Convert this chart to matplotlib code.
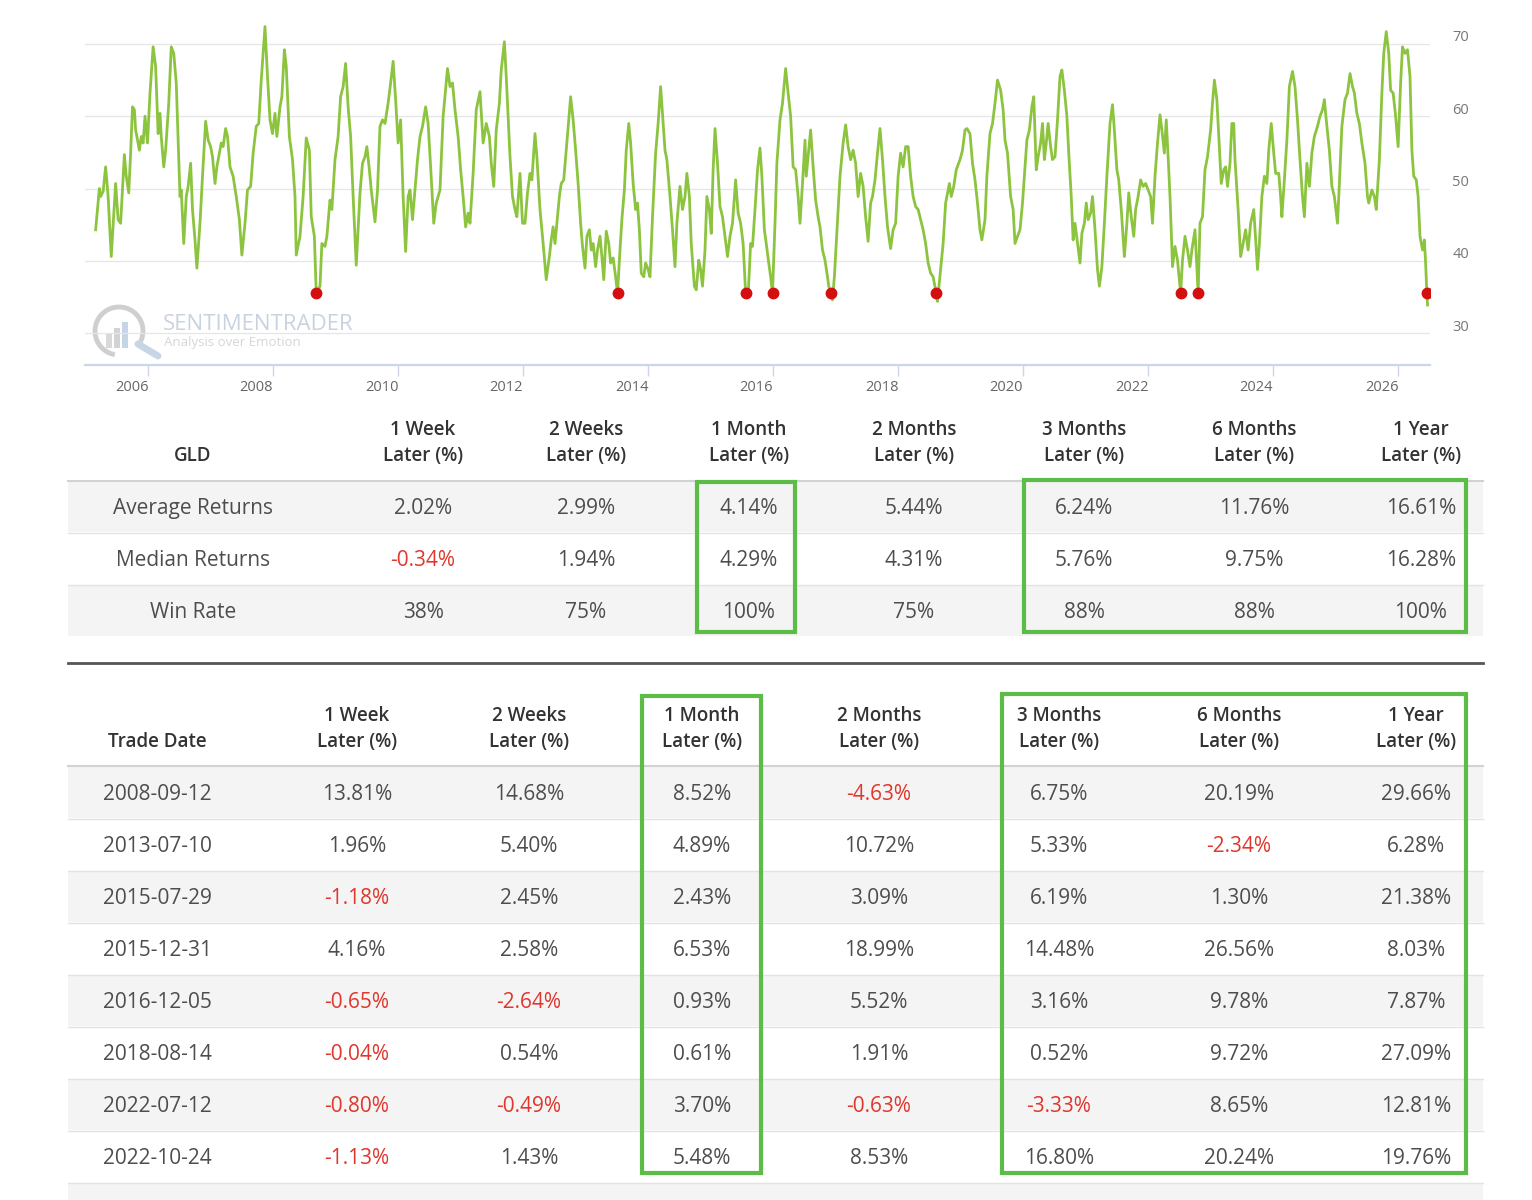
import matplotlib
matplotlib.use("Agg")
import matplotlib.pyplot as plt
from matplotlib.patches import Rectangle, Arc
from matplotlib.transforms import ScaledTranslation

plt.rcParams['font.family'] = ['Open Sans', 'DejaVu Sans']

# ---- chart data (decimal year, indicator value) ----
dates = [
    2005.17, 2005.23, 2005.25, 2005.29, 2005.33, 2005.37, 2005.42, 2005.49, 2005.53, 2005.57,
    2005.63, 2005.66, 2005.70, 2005.73, 2005.76, 2005.79, 2005.81, 2005.83, 2005.87, 2005.90,
    2005.93, 2005.96, 2006.00, 2006.04, 2006.09, 2006.13, 2006.17, 2006.20, 2006.22, 2006.26,
    2006.29, 2006.34, 2006.38, 2006.42, 2006.46, 2006.52, 2006.54, 2006.58, 2006.62, 2006.65,
    2006.69, 2006.72, 2006.76, 2006.79, 2006.84, 2006.88, 2006.93, 2006.97, 2007.01, 2007.04,
    2007.08, 2007.11, 2007.16, 2007.18, 2007.21, 2007.25, 2007.28, 2007.32, 2007.37, 2007.42,
    2007.47, 2007.51, 2007.56, 2007.60, 2007.65, 2007.69, 2007.74, 2007.78, 2007.82, 2007.88,
    2007.92, 2007.96, 2008.00, 2008.04, 2008.07, 2008.12, 2008.15, 2008.19, 2008.22, 2008.27,
    2008.32, 2008.36, 2008.38, 2008.44, 2008.49, 2008.54, 2008.59, 2008.62, 2008.67, 2008.70,
    2008.76, 2008.79, 2008.84, 2008.87, 2008.92, 2008.95, 2009.00, 2009.05, 2009.09, 2009.13,
    2009.17, 2009.21, 2009.25, 2009.29, 2009.34, 2009.40, 2009.44, 2009.48, 2009.51, 2009.55,
    2009.58, 2009.64, 2009.68, 2009.72, 2009.76, 2009.80, 2009.85, 2009.89, 2009.93, 2009.97,
    2010.01, 2010.05, 2010.09, 2010.13, 2010.17, 2010.20, 2010.24, 2010.28, 2010.32, 2010.36,
    2010.40, 2010.45, 2010.49, 2010.53, 2010.58, 2010.62, 2010.68, 2010.73, 2010.80, 2010.84,
    2010.88, 2010.92, 2010.97, 2011.01, 2011.05, 2011.09, 2011.13, 2011.16, 2011.21, 2011.26,
    2011.32, 2011.37, 2011.42, 2011.47, 2011.50, 2011.54, 2011.58, 2011.63, 2011.66, 2011.71,
    2011.74, 2011.80, 2011.84, 2011.88, 2011.91, 2011.96, 2012.00, 2012.04, 2012.08, 2012.12,
    2012.15, 2012.20, 2012.23, 2012.28, 2012.33, 2012.38, 2012.43, 2012.46, 2012.49, 2012.52,
    2012.54, 2012.59, 2012.62, 2012.66, 2012.70, 2012.74, 2012.77, 2012.81, 2012.85, 2012.89,
    2012.93, 2012.96, 2013.00, 2013.03, 2013.07, 2013.10, 2013.13, 2013.17, 2013.20, 2013.24,
    2013.27, 2013.30, 2013.34, 2013.38, 2013.41, 2013.45, 2013.49, 2013.52, 2013.56, 2013.59,
    2013.63, 2013.66, 2013.70, 2013.73, 2013.77, 2013.81, 2013.84, 2013.87, 2013.90, 2013.94,
    2013.97, 2014.01, 2014.04, 2014.08, 2014.13, 2014.17, 2014.21, 2014.25, 2014.28, 2014.31,
    2014.36, 2014.40, 2014.44, 2014.47, 2014.52, 2014.56, 2014.60, 2014.63, 2014.67, 2014.70,
    2014.75, 2014.78, 2014.82, 2014.85, 2014.88, 2014.92, 2014.95, 2014.99, 2015.02, 2015.05,
    2015.08, 2015.12, 2015.16, 2015.20, 2015.24, 2015.28, 2015.32, 2015.36, 2015.41, 2015.45,
    2015.49, 2015.53, 2015.57, 2015.61, 2015.65, 2015.68, 2015.72, 2015.76, 2015.80, 2015.83,
    2015.87, 2015.90, 2015.94, 2015.97, 2016.00, 2016.04, 2016.07, 2016.12, 2016.16, 2016.21,
    2016.25, 2016.29, 2016.33, 2016.37, 2016.41, 2016.44, 2016.48, 2016.52, 2016.54, 2016.58,
    2016.61, 2016.65, 2016.69, 2016.73, 2016.76, 2016.80, 2016.84, 2016.88, 2016.90, 2016.93,
    2016.96, 2016.99, 2017.02, 2017.08, 2017.13, 2017.17, 2017.21, 2017.25, 2017.29, 2017.33,
    2017.37, 2017.41, 2017.45, 2017.49, 2017.53, 2017.57, 2017.60, 2017.64, 2017.68, 2017.72,
    2017.76, 2017.80, 2017.84, 2017.89, 2017.93, 2017.97, 2018.01, 2018.05, 2018.09, 2018.13,
    2018.17, 2018.21, 2018.25, 2018.29, 2018.33, 2018.37, 2018.41, 2018.45, 2018.49, 2018.53,
    2018.57, 2018.62, 2018.64, 2018.69, 2018.73, 2018.77, 2018.83, 2018.86, 2018.90, 2018.94,
    2019.00, 2019.04, 2019.08, 2019.11, 2019.16, 2019.20, 2019.24, 2019.28, 2019.32, 2019.35,
    2019.40, 2019.43, 2019.48, 2019.52, 2019.56, 2019.60, 2019.65, 2019.69, 2019.72, 2019.76,
    2019.81, 2019.85, 2019.88, 2019.92, 2019.96, 2020.00, 2020.03, 2020.07, 2020.11, 2020.15,
    2020.18, 2020.22, 2020.25, 2020.29, 2020.32, 2020.35, 2020.38, 2020.41, 2020.45, 2020.48,
    2020.52, 2020.56, 2020.60, 2020.63, 2020.67, 2020.71, 2020.74, 2020.78, 2020.81, 2020.84,
    2020.88, 2020.92, 2020.95, 2020.99, 2021.02, 2021.05, 2021.09, 2021.12, 2021.16, 2021.20,
    2021.23, 2021.27, 2021.31, 2021.35, 2021.40, 2021.44, 2021.47, 2021.51, 2021.54, 2021.58,
    2021.63, 2021.67, 2021.70, 2021.74, 2021.78, 2021.81, 2021.85, 2021.89, 2021.93, 2021.97,
    2022.01, 2022.05, 2022.08, 2022.12, 2022.16, 2022.20, 2022.23, 2022.27, 2022.30, 2022.33,
    2022.36, 2022.40, 2022.44, 2022.48, 2022.53, 2022.56, 2022.60, 2022.64, 2022.68, 2022.71,
    2022.76, 2022.81, 2022.84, 2022.88, 2022.92, 2022.96, 2023.01, 2023.04, 2023.07, 2023.11,
    2023.14, 2023.18, 2023.22, 2023.25, 2023.28, 2023.32, 2023.35, 2023.38, 2023.40, 2023.45,
    2023.49, 2023.53, 2023.57, 2023.61, 2023.65, 2023.70, 2023.72, 2023.76, 2023.79, 2023.83,
    2023.87, 2023.91, 2023.94, 2023.98, 2024.02, 2024.05, 2024.10, 2024.13, 2024.15, 2024.19,
    2024.23, 2024.27, 2024.32, 2024.36, 2024.40, 2024.44, 2024.48, 2024.51, 2024.55, 2024.59,
    2024.63, 2024.67, 2024.72, 2024.76, 2024.80, 2024.83, 2024.86, 2024.91, 2024.95, 2024.99,
    2025.04, 2025.07, 2025.11, 2025.16, 2025.20, 2025.24, 2025.28, 2025.31, 2025.35, 2025.39,
    2025.43, 2025.48, 2025.52, 2025.54, 2025.59, 2025.63, 2025.66, 2025.71, 2025.75, 2025.78,
    2025.82, 2025.86, 2025.89, 2025.93, 2025.97, 2026.01, 2026.05, 2026.08, 2026.12, 2026.16,
    2026.20, 2026.23, 2026.26, 2026.30, 2026.33, 2026.36, 2026.40, 2026.43, 2026.45, 2026.47,
    2026.48,
]
values = [
    44.3, 50.0, 48.9, 49.6, 53.0, 48.9, 40.6, 50.7, 45.7, 45.2,
    54.7, 51.7, 49.4, 54.9, 61.3, 60.9, 58.1, 57.2, 55.3, 57.2,
    56.3, 60.0, 56.3, 63.2, 69.6, 66.9, 57.6, 60.4, 57.2, 53.0,
    55.3, 61.8, 69.6, 68.7, 64.6, 48.9, 49.8, 42.4, 48.9, 50.3,
    53.5, 47.1, 42.9, 39.0, 45.2, 51.7, 59.3, 56.7, 55.8, 54.4,
    50.7, 53.0, 55.3, 56.3, 55.8, 58.3, 57.2, 53.0, 51.7, 48.9,
    45.7, 40.8, 45.2, 49.8, 50.3, 54.9, 58.6, 59.0, 65.0, 72.4,
    65.5, 59.5, 57.6, 60.4, 57.2, 61.3, 62.7, 69.2, 66.9, 57.2,
    54.0, 48.9, 40.8, 43.4, 48.9, 57.0, 55.3, 46.1, 43.4, 35.5,
    36.5, 42.4, 42.0, 43.4, 48.4, 47.1, 54.0, 57.2, 62.7, 64.1,
    67.3, 61.3, 57.2, 48.9, 39.4, 49.4, 53.5, 54.4, 55.8, 52.6,
    49.8, 45.4, 49.8, 58.6, 59.5, 59.0, 61.8, 64.6, 67.6, 62.3,
    56.3, 59.5, 48.9, 41.3, 48.9, 49.8, 45.7, 49.8, 54.0, 57.2,
    58.6, 61.3, 59.0, 53.0, 45.2, 48.0, 49.8, 60.0, 66.6, 64.1,
    64.6, 60.9, 57.2, 52.6, 48.9, 44.7, 46.6, 45.2, 52.1, 60.9,
    63.4, 56.3, 59.0, 57.2, 53.5, 50.3, 58.1, 61.8, 66.4, 70.3,
    65.5, 54.4, 48.9, 47.1, 46.1, 52.1, 45.2, 45.2, 49.4, 52.1,
    51.2, 57.6, 54.4, 47.1, 42.4, 37.4, 40.6, 42.9, 44.7, 42.4,
    44.3, 48.9, 50.7, 51.2, 55.3, 59.5, 62.7, 59.5, 55.3, 50.7,
    45.2, 42.0, 39.0, 43.4, 44.3, 41.5, 42.4, 39.2, 41.5, 43.4,
    40.6, 37.4, 44.1, 42.4, 39.7, 40.4, 37.8, 35.5, 41.5, 45.7,
    49.8, 55.3, 59.0, 56.3, 50.7, 47.1, 48.0, 44.3, 38.3, 37.8,
    39.7, 38.8, 37.8, 46.1, 54.9, 59.0, 64.1, 59.0, 55.3, 54.0,
    48.9, 44.3, 39.2, 45.2, 50.3, 47.1, 48.9, 52.1, 48.9, 42.4,
    36.5, 36.0, 40.1, 38.8, 36.5, 41.5, 48.9, 47.1, 43.8, 52.6,
    58.3, 53.5, 47.5, 46.1, 43.4, 40.6, 43.4, 45.2, 51.2, 46.6,
    45.2, 42.4, 35.5, 35.1, 42.4, 42.0, 47.1, 52.6, 55.6, 51.7,
    44.3, 42.4, 39.7, 37.8, 35.5, 45.2, 53.5, 59.5, 61.8, 66.6,
    63.2, 60.0, 53.0, 52.6, 48.9, 45.2, 50.7, 56.7, 51.7, 55.3,
    58.1, 53.0, 48.4, 46.1, 44.7, 41.5, 40.1, 37.8, 36.5, 35.5,
    34.6, 37.8, 42.4, 51.7, 56.3, 58.8, 55.8, 54.0, 55.3, 53.5,
    48.9, 52.1, 50.3, 46.1, 42.7, 48.0, 48.9, 51.2, 54.9, 58.3,
    54.0, 48.9, 44.7, 41.7, 44.3, 45.2, 51.7, 54.9, 53.0, 55.8,
    55.8, 51.7, 48.9, 47.5, 47.1, 45.7, 44.3, 42.4, 39.7, 38.3,
    37.8, 35.5, 34.4, 38.8, 42.4, 48.0, 50.7, 48.9, 50.3, 52.6,
    54.0, 55.3, 58.1, 58.3, 57.6, 53.5, 51.2, 48.0, 44.3, 42.9,
    45.7, 51.7, 57.6, 59.0, 61.8, 65.0, 63.6, 60.9, 56.7, 54.9,
    48.9, 47.1, 42.4, 43.4, 44.3, 48.0, 51.7, 56.7, 58.1, 61.3,
    62.7, 52.6, 54.4, 56.3, 59.0, 54.0, 56.3, 59.0, 55.8, 54.0,
    54.4, 59.5, 65.5, 66.4, 63.6, 60.0, 54.9, 48.9, 42.9, 45.2,
    42.4, 39.7, 43.8, 45.2, 48.0, 45.7, 46.6, 48.9, 44.3, 38.8,
    36.5, 39.2, 45.2, 51.7, 59.0, 61.6, 58.1, 52.6, 51.2, 47.1,
    40.6, 45.2, 49.4, 46.1, 43.4, 47.1, 48.9, 51.2, 50.3, 50.7,
    49.8, 48.9, 45.2, 51.7, 56.3, 60.2, 58.1, 54.9, 59.5, 54.4,
    48.9, 39.2, 42.0, 40.1, 35.5, 40.1, 43.4, 41.5, 39.2, 41.5,
    44.3, 35.5, 45.2, 46.1, 52.6, 54.4, 58.1, 61.8, 65.0, 62.3,
    57.2, 50.7, 52.6, 53.0, 50.3, 53.5, 59.0, 59.0, 54.0, 47.1,
    40.6, 42.4, 44.3, 41.5, 45.2, 47.1, 44.3, 38.8, 42.4, 48.9,
    51.7, 50.7, 55.3, 59.0, 54.9, 52.1, 52.1, 48.9, 46.1, 51.2,
    56.7, 64.1, 66.2, 64.1, 59.5, 54.0, 48.9, 46.1, 53.5, 50.3,
    54.9, 57.2, 58.6, 60.0, 60.9, 62.3, 59.5, 55.3, 50.3, 48.9,
    45.2, 50.7, 58.6, 62.3, 63.2, 65.9, 64.1, 63.2, 60.4, 59.0,
    56.3, 53.5, 48.9, 48.0, 49.8, 48.9, 47.1, 54.0, 63.2, 68.7,
    71.7, 68.7, 63.6, 63.2, 60.0, 55.8, 64.6, 69.6, 68.7, 69.2,
    65.5, 55.3, 51.7, 51.2, 48.9, 43.4, 41.5, 42.9, 39.7, 35.5,
    33.9,
]

# signal points (red dots)
signal_dates = [2008.70, 2013.52, 2015.57, 2016.00, 2016.93, 2018.62, 2022.53, 2022.81, 2026.47]
signal_values = [35.5, 35.5, 35.5, 35.5, 35.5, 35.5, 35.5, 35.5, 35.5]

year_ticks = [2006, 2008, 2010, 2012, 2014, 2016, 2018, 2020, 2022, 2024, 2026]
y_ticks = [30, 40, 50, 60, 70]

# ---- table data ----
horizons = ["1 Week", "2 Weeks", "1 Month", "2 Months", "3 Months", "6 Months", "1 Year"]
stat_names = ["Average Returns", "Median Returns", "Win Rate"]
avg_returns = [2.02, 2.99, 4.14, 5.44, 6.24, 11.76, 16.61]
median_returns = [-0.34, 1.94, 4.29, 4.31, 5.76, 9.75, 16.28]
win_rate = [38, 75, 100, 75, 88, 88, 100]

trade_dates = ["2008-09-12", "2013-07-10", "2015-07-29", "2015-12-31",
               "2016-12-05", "2018-08-14", "2022-07-12", "2022-10-24"]
ret_1w = [13.81, 1.96, -1.18, 4.16, -0.65, -0.04, -0.80, -1.13]
ret_2w = [14.68, 5.40, 2.45, 2.58, -2.64, 0.54, -0.49, 1.43]
ret_1m = [8.52, 4.89, 2.43, 6.53, 0.93, 0.61, 3.70, 5.48]
ret_2m = [-4.63, 10.72, 3.09, 18.99, 5.52, 1.91, -0.63, 8.53]
ret_3m = [6.75, 5.33, 6.19, 14.48, 3.16, 0.52, -3.33, 16.80]
ret_6m = [20.19, -2.34, 1.30, 26.56, 9.78, 9.72, 8.65, 20.24]
ret_1y = [29.66, 6.28, 21.38, 8.03, 7.87, 27.09, 12.81, 19.76]

# ---- colours ----
LINE = "#8cc43f"
DOT = "#d40f0f"
TXT = "#4d4d4d"
HEAD = "#333333"
NEG = "#e0362c"
GREEN = "#5bbd48"
BAND = "#f4f4f4"

W, H = 1532, 1200
fig = plt.figure(figsize=(W / 100, H / 100), dpi=100)
fig.patch.set_facecolor("white")

# pixel canvas for tables / watermark
bg = fig.add_axes([0, 0, 1, 1])
bg.set_xlim(0, W)
bg.set_ylim(H, 0)
bg.axis("off")

# watermark logo + text
bg.add_patch(Arc((119, 331), 48, 48, theta1=100, theta2=400, color="#cfcfcf", lw=3.5))
for bx, bh, bc in [(106, 14, "#d9d9d9"), (114, 20, "#d3d3d3"), (122, 26, "#c5d5e6")]:
    bg.add_patch(Rectangle((bx, 348 - bh), 6, bh, color=bc, lw=0))
bg.plot([138, 158], [344, 356], color="#c7d6e6", lw=5, solid_capstyle="round")
bg.text(163, 325, "SENTIMENTRADER", fontsize=16, color="#c9d3df", va="center", ha="left")
bg.text(164, 342.5, "Analysis over Emotion", fontsize=9.5, color="#d6d6d6", va="center", ha="left")

# ---- chart ----
ax = fig.add_axes([85 / W, 1 - 365 / H, (1430 - 85) / W, (365 - 15) / H])
ax.patch.set_alpha(0)
ax.set_xlim(2005.0, 2026.52)
ax.set_ylim(25.6, 74.0)
ax.plot(dates, values, color=LINE, lw=2.0, zorder=3)
ax.plot(signal_dates, signal_values, "o", color=DOT, ms=7.5, zorder=4)

for s in ["top", "left", "right"]:
    ax.spines[s].set_visible(False)
ax.spines["bottom"].set_color("#ccd6eb")
ax.spines["bottom"].set_linewidth(1.6)

ax.set_yticks(y_ticks)
ax.yaxis.tick_right()
ax.tick_params(axis="y", length=0, pad=16, labelsize=10.5, labelcolor="#777777")
ax.grid(axis="y", color="#e6e6e6", lw=0.9)
ax.set_axisbelow(True)

ax.set_xticks(year_ticks)
ax.set_xticklabels([str(y) for y in year_ticks])
ax.tick_params(axis="x", length=8, width=1, color="#ccd6eb", pad=3,
               labelsize=10.5, labelcolor="#666666")
for lbl in ax.get_xticklabels():
    lbl.set_transform(lbl.get_transform() + ScaledTranslation(-0.16, 0, fig.dpi_scale_trans))
for lbl in ax.get_yticklabels():
    lbl.set_transform(lbl.get_transform() + ScaledTranslation(0, 0.08, fig.dpi_scale_trans))


# ---- tables ----
def txt(x, y, s, color=TXT, weight="normal", size=15):
    bg.text(x, y, s, ha="center", va="center", fontsize=size, color=color, fontweight=weight)


def head(x, y, s):
    txt(x, y, s, HEAD, 600, 13.5)


def pct(v):
    return f"{v:.2f}%"


def green_box(x0, y0, x1, y1):
    bg.add_patch(Rectangle((x0, y0), x1 - x0, y1 - y0, fill=False, ec=GREEN, lw=3, zorder=5))


X0, X1 = 68, 1483

# table 1: summary stats
t1_cols = [423, 586, 749, 914, 1084, 1254, 1421]
t1_rows = [506, 558, 610]
for i, yc in enumerate(t1_rows):
    top = yc - 25
    if i % 2 == 0:
        bg.add_patch(Rectangle((X0, top), X1 - X0, 51, color=BAND, lw=0, zorder=0))
    if i > 0:
        bg.plot([X0, X1], [top, top], color="#e3e3e3", lw=1, zorder=1)
bg.plot([X0, X1], [481, 481], color="#d2d2d2", lw=1.5, zorder=1)

head(193, 456, "GLD")
for xc, h in zip(t1_cols, horizons):
    head(xc, 430, h)
    head(xc, 456, "Later (%)")

stat_rows = [[pct(v) for v in avg_returns],
             [pct(v) for v in median_returns],
             [f"{v}%" for v in win_rate]]
stat_raw = [avg_returns, median_returns, win_rate]
for yc, name, row, raw in zip(t1_rows, stat_names, stat_rows, stat_raw):
    txt(193, yc + 2.5, name)
    for xc, s, v in zip(t1_cols, row, raw):
        txt(xc, yc + 2.5, s, NEG if v < 0 else TXT)

green_box(697, 482, 795, 632)
green_box(1024, 480, 1466, 632)

# separator
bg.plot([X0, X1], [663, 663], color="#555555", lw=2.0)

# table 2: individual trades
t2_cols = [357, 529, 702, 879, 1059, 1239, 1416]
t2_rows = [792 + 52 * i for i in range(len(trade_dates))]
for i, yc in enumerate(t2_rows + [1208]):
    top = yc - 25
    if i % 2 == 0:
        bg.add_patch(Rectangle((X0, top), X1 - X0, 51, color=BAND, lw=0, zorder=0))
    if i > 0:
        bg.plot([X0, X1], [top, top], color="#e3e3e3", lw=1, zorder=1)
bg.plot([X0, X1], [766, 766], color="#d2d2d2", lw=1.5, zorder=1)

head(157, 742, "Trade Date")
for xc, h in zip(t2_cols, horizons):
    head(xc, 716, h)
    head(xc, 742, "Later (%)")

trade_cols = [ret_1w, ret_2w, ret_1m, ret_2m, ret_3m, ret_6m, ret_1y]
for r, (yc, d) in enumerate(zip(t2_rows, trade_dates)):
    txt(157, yc + 2.5, d)
    for xc, col in zip(t2_cols, trade_cols):
        v = col[r]
        txt(xc, yc + 2.5, pct(v), NEG if v < 0 else TXT)

green_box(642, 696, 761, 1173)
green_box(1002, 694, 1466, 1173)

fig.savefig("out.png", dpi=100, facecolor="white")
